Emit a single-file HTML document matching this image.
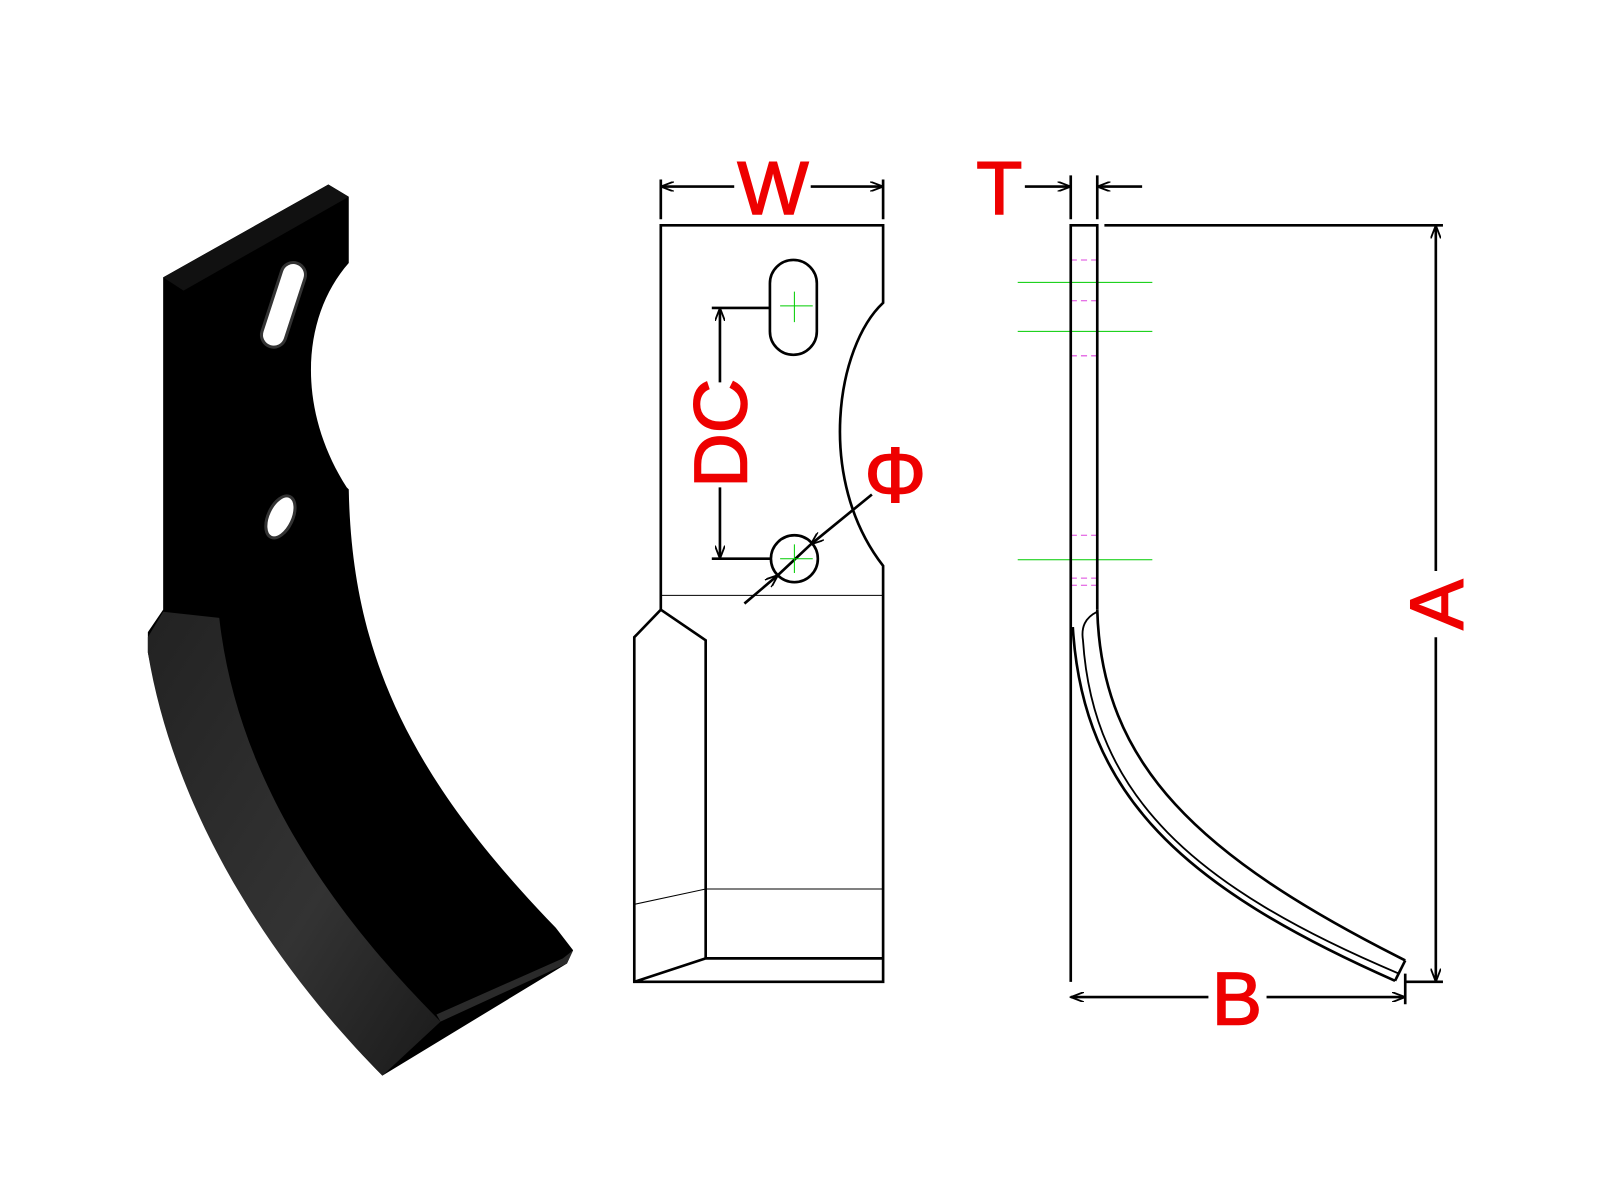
<!DOCTYPE html>
<html><head><meta charset="utf-8"><style>
html,body{margin:0;padding:0;background:#fff;width:1600px;height:1200px;overflow:hidden}
svg{display:block}
text{font-family:"Liberation Sans",sans-serif;fill:#ee0000;stroke:#ee0000;stroke-width:1.5}
</style></head><body>
<svg width="1600" height="1200" viewBox="0 0 1569 1177" preserveAspectRatio="none">
<defs>
<linearGradient id="g1" x1="0" y1="0" x2="1" y2="1">
<stop offset="0" stop-color="#222"/><stop offset="0.6" stop-color="#333"/><stop offset="1" stop-color="#1a1a1a"/></linearGradient>
<marker id="ar" markerWidth="14" markerHeight="10" refX="13" refY="5" orient="auto" markerUnits="userSpaceOnUse">
<path d="M0,0 L13,5 L0,10" fill="none" stroke="#000" stroke-width="1.8"/></marker>
</defs>
<!-- 3D blade -->
<path d="M160,272 L322,181 L342,193 L342,258 C296,310 290,400 340,478 L342,480 C345,640 400,760 545,910 L562,932 L556,945 L375,1055 C300,980 180,820 145,640 L145,620 L160,598 Z" fill="#000"/>
<path d="M160,272 L322,181 L342,193 L180,285 Z" fill="#111"/>
<path d="M145,625 L160,600 L215,606 C230,740 300,870 432,1002 L375,1055 C290,970 175,820 145,640 Z" fill="url(#g1)"/>
<path d="M432,1002 L556,945 L562,932 L552,940 L428,995 Z" fill="#2a2a2a"/>
<rect x="266" y="256" width="24" height="86" rx="12" transform="rotate(18 278 299)" fill="#fff" stroke="#333" stroke-width="3"/>
<ellipse cx="275" cy="507" rx="12" ry="22" transform="rotate(25 275 507)" fill="#fff" stroke="#333" stroke-width="3"/>

<!-- Front view -->
<g fill="none" stroke="#000" stroke-width="2.6">
<path d="M648,598 L648,221 L866,221 L866,297 C820,340 800,470 866,555 L866,963 L622,963 L622,625 L648,598 L692,628 L692,940"/>
<path d="M692,940 L866,940 M622,963 L692,940"/>
<rect x="755" y="255" width="46" height="93" rx="23"/>
<circle cx="779" cy="548" r="23"/>
<path d="M698,302 L756,302 M698,548 L756,548"/>
<path d="M706,375 L706,302" marker-end="url(#ar)"/>
<path d="M706,478 L706,548" marker-end="url(#ar)"/>
<path d="M648,176 L648,215 M866,176 L866,215"/>
<path d="M720,183 L648,183" marker-end="url(#ar)"/>
<path d="M795,183 L866,183" marker-end="url(#ar)"/>
<path d="M855,485 L795,534" marker-end="url(#ar)"/>
<path d="M730,592 L763,564" marker-end="url(#ar)"/>
<path d="M795,534 L763,564"/>
</g>
<g fill="none" stroke="#000" stroke-width="1">
<path d="M648,584 L866,584 M692,872 L866,872 M622,887 L692,872"/>
</g>
<g stroke="#00cc00" stroke-width="1"><path d="M765,300 L797,300 M779,286 L779,316 M765,548 L797,548 M779,534 L779,562"/></g>
<text x="758" y="210" font-size="74" text-anchor="middle">W</text>
<text transform="translate(732,425) rotate(-90)" font-size="74" text-anchor="middle">DC</text>
<text x="878" y="492" font-size="76" text-anchor="middle">Φ</text>

<!-- Side view -->
<g stroke="#00cc00" stroke-width="1"><path d="M998,277 L1130,277 M998,325 L1130,325 M998,549 L1130,549"/></g>
<g stroke="#dd44dd" stroke-width="1" stroke-dasharray="6,4"><path d="M1050,255 L1076,255 M1050,295 L1076,295 M1050,349 L1076,349 M1050,525 L1076,525 M1050,567 L1076,567 M1050,574 L1076,574"/></g>
<g fill="none" stroke="#000" stroke-width="2.6">
<path d="M1050,963 L1050,221 L1076,221 L1076,598"/>
<path d="M1052,615 C1062,780 1160,870 1368,962"/>
<path d="M1076,598 C1080,750 1175,840 1378,942"/>
<path d="M1368,962 L1378,942"/>
<path d="M1076,600 C1064,606 1060,615 1062,628 C1072,780 1170,870 1372,955" stroke-width="1.8"/>
<path d="M1083,221 L1415,221 M1378,963 L1415,963 M1050,172 L1050,215 M1076,172 L1076,215 M1378,955 L1378,985"/>
<path d="M1408,560 L1408,221" marker-end="url(#ar)"/>
<path d="M1408,625 L1408,963" marker-end="url(#ar)"/>
<path d="M1185,978 L1050,978" marker-end="url(#ar)"/>
<path d="M1242,978 L1378,978" marker-end="url(#ar)"/>
<path d="M1005,183 L1050,183" marker-end="url(#ar)"/>
<path d="M1120,183 L1076,183" marker-end="url(#ar)"/>
</g>
<text x="980" y="210" font-size="74" text-anchor="middle">T</text>
<text x="1213" y="1005" font-size="74" text-anchor="middle">B</text>
<text transform="translate(1434,593) rotate(-90)" font-size="74" text-anchor="middle">A</text>
</svg>
</body></html>
